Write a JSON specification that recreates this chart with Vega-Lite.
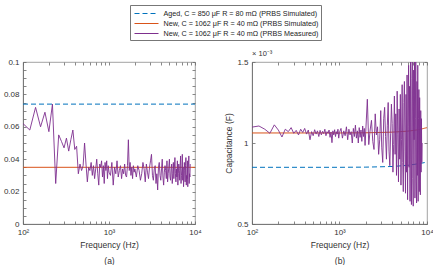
{
  "$schema": "https://vega.github.io/schema/vega-lite/v6.json",
  "padding": {"left": 3, "top": 4, "right": 2, "bottom": 0},
  "datasets": {
    "meas": [
      {"f":100,"esr":0.062,"cap":0.001098},{"f":120,"esr":0.058,"cap":0.001105},{"f":140,"esr":0.072,"cap":0.001085},{"f":160,"esr":0.060,"cap":0.001060},{"f":180,"esr":0.069,"cap":0.001112},{"f":200,"esr":0.057,"cap":0.001080},{"f":220,"esr":0.074,"cap":0.001037},{"f":240,"esr":0.025,"cap":0.001085},{"f":260,"esr":0.055,"cap":0.001070},{"f":280,"esr":0.051,"cap":0.001095},{"f":300,"esr":0.047,"cap":0.001060},{"f":320,"esr":0.053,"cap":0.001078},{"f":340,"esr":0.045,"cap":0.001050},{"f":360,"esr":0.052,"cap":0.001085},{"f":380,"esr":0.058,"cap":0.001065},{"f":400,"esr":0.046,"cap":0.001090},{"f":420,"esr":0.048,"cap":0.001055},
      {"f":440,"esr":0.031,"cap":0.001080},{"f":460,"esr":0.037,"cap":0.001020},{"f":480,"esr":0.033,"cap":0.001070},{"f":500,"esr":0.036,"cap":0.001045},{"f":520,"esr":0.050,"cap":0.001082},{"f":540,"esr":0.037,"cap":0.001055},{"f":560,"esr":0.026,"cap":0.001075},{"f":580,"esr":0.035,"cap":0.001040},{"f":600,"esr":0.033,"cap":0.001078},{"f":620,"esr":0.038,"cap":0.001050},{"f":640,"esr":0.030,"cap":0.001072},{"f":660,"esr":0.036,"cap":0.001058},{"f":680,"esr":0.028,"cap":0.001085},{"f":700,"esr":0.034,"cap":0.001045},{"f":720,"esr":0.040,"cap":0.001070},{"f":740,"esr":0.031,"cap":0.001060},{"f":760,"esr":0.024,"cap":0.001080},{"f":780,"esr":0.037,"cap":0.001035},{"f":800,"esr":0.035,"cap":0.001068},{"f":820,"esr":0.039,"cap":0.001002},{"f":840,"esr":0.029,"cap":0.001075},{"f":860,"esr":0.036,"cap":0.001050},{"f":880,"esr":0.025,"cap":0.001082},{"f":900,"esr":0.038,"cap":0.001040},{"f":920,"esr":0.033,"cap":0.001070},{"f":940,"esr":0.039,"cap":0.001055},{"f":960,"esr":0.028,"cap":0.001085},{"f":980,"esr":0.036,"cap":0.001030},{"f":1000,"esr":0.032,"cap":0.001065},
      {"f":1040,"esr":0.030,"cap":0.001090},{"f":1080,"esr":0.038,"cap":0.001030},{"f":1120,"esr":0.024,"cap":0.001075},{"f":1160,"esr":0.035,"cap":0.001045},{"f":1200,"esr":0.031,"cap":0.001100},{"f":1240,"esr":0.039,"cap":0.001020},{"f":1280,"esr":0.029,"cap":0.001085},{"f":1320,"esr":0.033,"cap":0.001050},{"f":1360,"esr":0.036,"cap":0.001070},{"f":1400,"esr":0.028,"cap":0.001000},{"f":1440,"esr":0.034,"cap":0.001090},{"f":1480,"esr":0.031,"cap":0.001040},{"f":1520,"esr":0.037,"cap":0.001110},{"f":1560,"esr":0.030,"cap":0.001030},{"f":1600,"esr":0.029,"cap":0.001075},{"f":1640,"esr":0.036,"cap":0.001000},{"f":1680,"esr":0.052,"cap":0.001095},{"f":1720,"esr":0.033,"cap":0.001035},{"f":1760,"esr":0.038,"cap":0.001080},{"f":1800,"esr":0.030,"cap":0.001010},{"f":1840,"esr":0.035,"cap":0.001105},{"f":1880,"esr":0.028,"cap":0.001040},{"f":1920,"esr":0.036,"cap":0.001090},{"f":1960,"esr":0.032,"cap":0.000985},{"f":2000,"esr":0.034,"cap":0.001080},
      {"f":2080,"esr":0.029,"cap":0.001270},{"f":2160,"esr":0.036,"cap":0.000990},{"f":2240,"esr":0.033,"cap":0.001080},{"f":2320,"esr":0.027,"cap":0.001140},{"f":2400,"esr":0.031,"cap":0.001010},{"f":2480,"esr":0.038,"cap":0.000960},{"f":2560,"esr":0.034,"cap":0.001180},{"f":2640,"esr":0.026,"cap":0.001050},{"f":2720,"esr":0.037,"cap":0.001100},{"f":2800,"esr":0.032,"cap":0.000930},{"f":2880,"esr":0.028,"cap":0.001020},{"f":2960,"esr":0.035,"cap":0.001200},{"f":3040,"esr":0.039,"cap":0.000970},{"f":3120,"esr":0.043,"cap":0.000880},{"f":3200,"esr":0.030,"cap":0.001150},{"f":3280,"esr":0.027,"cap":0.001220},{"f":3360,"esr":0.034,"cap":0.001040},{"f":3440,"esr":0.036,"cap":0.000900},{"f":3520,"esr":0.025,"cap":0.001110},{"f":3600,"esr":0.031,"cap":0.001250},{"f":3680,"esr":0.021,"cap":0.000950},{"f":3760,"esr":0.035,"cap":0.000860},{"f":3840,"esr":0.038,"cap":0.001060},{"f":3920,"esr":0.030,"cap":0.001240},{"f":4000,"esr":0.027,"cap":0.001120},{"f":4080,"esr":0.034,"cap":0.000820},{"f":4160,"esr":0.040,"cap":0.000990},{"f":4240,"esr":0.029,"cap":0.001290},{"f":4320,"esr":0.024,"cap":0.000930},{"f":4400,"esr":0.032,"cap":0.001180},{"f":4480,"esr":0.036,"cap":0.000800},{"f":4560,"esr":0.033,"cap":0.001320},{"f":4640,"esr":0.028,"cap":0.001050},{"f":4720,"esr":0.039,"cap":0.000760},{"f":4800,"esr":0.026,"cap":0.001210},{"f":4880,"esr":0.031,"cap":0.000900},{"f":4960,"esr":0.035,"cap":0.001300},{"f":5040,"esr":0.040,"cap":0.000740},{"f":5120,"esr":0.029,"cap":0.001020},{"f":5200,"esr":0.027,"cap":0.001360},{"f":5280,"esr":0.034,"cap":0.000880},{"f":5360,"esr":0.037,"cap":0.000700},{"f":5440,"esr":0.025,"cap":0.001250},{"f":5520,"esr":0.031,"cap":0.001380},{"f":5600,"esr":0.038,"cap":0.000950},{"f":5680,"esr":0.028,"cap":0.000690},{"f":5760,"esr":0.035,"cap":0.001300},{"f":5840,"esr":0.041,"cap":0.000820},{"f":5920,"esr":0.031,"cap":0.001420},{"f":6000,"esr":0.026,"cap":0.000650},{"f":6080,"esr":0.034,"cap":0.001100},{"f":6160,"esr":0.029,"cap":0.001480},{"f":6240,"esr":0.039,"cap":0.000850},{"f":6320,"esr":0.024,"cap":0.001350},{"f":6400,"esr":0.031,"cap":0.000640},{"f":6480,"esr":0.037,"cap":0.001560},{"f":6560,"esr":0.033,"cap":0.000900},{"f":6640,"esr":0.027,"cap":0.000620},{"f":6720,"esr":0.036,"cap":0.001400},{"f":6800,"esr":0.042,"cap":0.001600},{"f":6880,"esr":0.025,"cap":0.000780},{"f":6960,"esr":0.030,"cap":0.000610},{"f":7040,"esr":0.034,"cap":0.001450},{"f":7120,"esr":0.043,"cap":0.001020},{"f":7200,"esr":0.027,"cap":0.001580},{"f":7280,"esr":0.035,"cap":0.000660},{"f":7360,"esr":0.023,"cap":0.001150},{"f":7440,"esr":0.029,"cap":0.001520},{"f":7520,"esr":0.038,"cap":0.000760},{"f":7600,"esr":0.033,"cap":0.000630},{"f":7680,"esr":0.026,"cap":0.001380},{"f":7760,"esr":0.036,"cap":0.000800},{"f":7840,"esr":0.041,"cap":0.001480},{"f":7920,"esr":0.024,"cap":0.000640},{"f":8000,"esr":0.030,"cap":0.001150},{"f":8080,"esr":0.028,"cap":0.001330},{"f":8160,"esr":0.039,"cap":0.000700},{"f":8240,"esr":0.023,"cap":0.001280},{"f":8320,"esr":0.034,"cap":0.000760},{"f":8400,"esr":0.037,"cap":0.000680},{"f":8480,"esr":0.042,"cap":0.001200},{"f":8560,"esr":0.025,"cap":0.000820},{"f":8640,"esr":0.031,"cap":0.001150},{"f":8720,"esr":0.029,"cap":0.000880},{"f":8800,"esr":0.037,"cap":0.001000}
    ],
    "esrSim": [
      {"f":100,"esr":0.074,"s":"Aged, C = 850 μF R = 80 mΩ (PRBS Simulated)"},
      {"f":10000,"esr":0.074,"s":"Aged, C = 850 μF R = 80 mΩ (PRBS Simulated)"},
      {"f":100,"esr":0.035,"s":"New, C = 1062 μF R = 40 mΩ (PRBS Simulated)"},
      {"f":10000,"esr":0.035,"s":"New, C = 1062 μF R = 40 mΩ (PRBS Simulated)"}
    ],
    "capSim": [
      {"f":100,"cap":0.000850,"s":"Aged, C = 850 μF R = 80 mΩ (PRBS Simulated)"},
      {"f":1000,"cap":0.000850,"s":"Aged, C = 850 μF R = 80 mΩ (PRBS Simulated)"},
      {"f":2000,"cap":0.000851,"s":"Aged, C = 850 μF R = 80 mΩ (PRBS Simulated)"},
      {"f":4000,"cap":0.000855,"s":"Aged, C = 850 μF R = 80 mΩ (PRBS Simulated)"},
      {"f":6000,"cap":0.000862,"s":"Aged, C = 850 μF R = 80 mΩ (PRBS Simulated)"},
      {"f":8000,"cap":0.000872,"s":"Aged, C = 850 μF R = 80 mΩ (PRBS Simulated)"},
      {"f":10000,"cap":0.000882,"s":"Aged, C = 850 μF R = 80 mΩ (PRBS Simulated)"},
      {"f":100,"cap":0.001062,"s":"New, C = 1062 μF R = 40 mΩ (PRBS Simulated)"},
      {"f":1000,"cap":0.001062,"s":"New, C = 1062 μF R = 40 mΩ (PRBS Simulated)"},
      {"f":2000,"cap":0.001063,"s":"New, C = 1062 μF R = 40 mΩ (PRBS Simulated)"},
      {"f":4000,"cap":0.001067,"s":"New, C = 1062 μF R = 40 mΩ (PRBS Simulated)"},
      {"f":6000,"cap":0.001073,"s":"New, C = 1062 μF R = 40 mΩ (PRBS Simulated)"},
      {"f":8000,"cap":0.001082,"s":"New, C = 1062 μF R = 40 mΩ (PRBS Simulated)"},
      {"f":10000,"cap":0.001095,"s":"New, C = 1062 μF R = 40 mΩ (PRBS Simulated)"}
    ]
  },
  "config": {
    "font": "Liberation Sans",
    "view": {"stroke": "#8a8a8a", "strokeWidth": 0.8},
    "axis": {
      "grid": false, "domainColor": "#6a6a6a", "domainWidth": 0.8, "tickColor": "#6a6a6a", "tickWidth": 0.8,
      "tickSize": -3, "labelPadding": 7, "labelColor": "#333333", "labelFontSize": 8,
      "titleColor": "#333333", "titleFontSize": 8.5, "titleFontWeight": "normal", "labelFlush": false, "labelOverlap": false
    },
    "title": {"fontWeight": "normal", "color": "#333333"}
  },
  "hconcat": [
    {
      "width": 172, "height": 162,
      "layer": [
        {
          "data": {"name": "esrSim"},
          "mark": {"type": "line", "strokeWidth": 1, "clip": true},
          "encoding": {
            "x": {"field": "f", "type": "quantitative", "scale": {"type": "log", "domain": [100, 10000], "nice": false},
              "axis": {"orient": "bottom", "values": [100,200,300,400,500,600,700,800,900,1000,2000,3000,4000,5000,6000,7000,8000,9000,10000],
                "labelExpr": "datum.value==100?'10²':datum.value==1000?'10³':datum.value==10000?'10⁴':''",
                "title": ["Frequency (Hz)", "(a)"], "titleLineHeight": 16, "titlePadding": 4}},
            "y": {"field": "esr", "type": "quantitative", "scale": {"domain": [0, 0.1], "nice": false},
              "axis": {"orient": "left", "values": [0,0.005,0.01,0.015,0.02,0.025,0.03,0.035,0.04,0.045,0.05,0.055,0.06,0.065,0.07,0.075,0.08,0.085,0.09,0.095,0.1],
                "labelExpr": "abs(round(datum.value*50)-datum.value*50)<0.001 ? format(datum.value,'~g') : ''", "title": null}},
            "color": {"field": "s", "type": "nominal",
              "scale": {"domain": ["Aged, C = 850 μF R = 80 mΩ (PRBS Simulated)", "New, C = 1062 μF R = 40 mΩ (PRBS Simulated)", "New, C = 1062 μF R = 40 mΩ (PRBS Measured)"],
                "range": ["#0072BD", "#D95319", "#7E2F8E"]},
              "legend": {"orient": "none", "legendX": 107, "legendY": -57, "direction": "vertical", "title": null,
                "labelFontSize": 7.2, "labelColor": "#222222", "labelLimit": 0, "symbolType": "M-2.4,0H2.4", "symbolSize": 100,
                "symbolStrokeWidth": 1.2, "strokeColor": "#777777", "fillColor": "white", "padding": 2.5, "rowPadding": 0,
                "symbolOffset": 8, "labelOffset": 11,
                "encode": {"symbols": {"update": {"strokeDash": {"signal": "indexof(datum.value,'Aged')==0 ? [5,3] : [1,0]"}}}}}},
            "strokeDash": {"field": "s", "type": "nominal",
              "scale": {"domain": ["Aged, C = 850 μF R = 80 mΩ (PRBS Simulated)", "New, C = 1062 μF R = 40 mΩ (PRBS Simulated)"], "range": [[5,3],[1,0]]},
              "legend": null}
          }
        },
        {
          "data": {"name": "meas"},
          "mark": {"type": "line", "strokeWidth": 0.9, "clip": true},
          "encoding": {
            "x": {"field": "f", "type": "quantitative",
              "axis": {"orient": "top", "values": [100,200,300,400,500,600,700,800,900,1000,2000,3000,4000,5000,6000,7000,8000,9000,10000], "labels": false, "domain": false, "title": null}},
            "y": {"field": "esr", "type": "quantitative",
              "axis": {"orient": "right", "values": [0,0.005,0.01,0.015,0.02,0.025,0.03,0.035,0.04,0.045,0.05,0.055,0.06,0.065,0.07,0.075,0.08,0.085,0.09,0.095,0.1], "labels": false, "domain": false, "title": null}},
            "color": {"datum": "New, C = 1062 μF R = 40 mΩ (PRBS Measured)"}
          }
        }
      ]
    },
    {
      "width": 175, "height": 162,
      "title": {"text": "× 10⁻³", "anchor": "start", "frame": "group", "fontSize": 7.5, "offset": 1, "color": "#333333"},
      "layer": [
        {
          "data": {"name": "capSim"},
          "mark": {"type": "line", "strokeWidth": 1, "clip": true},
          "encoding": {
            "x": {"field": "f", "type": "quantitative", "scale": {"type": "log", "domain": [100, 10000], "nice": false},
              "axis": {"orient": "bottom", "values": [100,200,300,400,500,600,700,800,900,1000,2000,3000,4000,5000,6000,7000,8000,9000,10000],
                "labelExpr": "datum.value==100?'10²':datum.value==1000?'10³':datum.value==10000?'10⁴':''",
                "title": ["Frequency (Hz)", "(b)"], "titleLineHeight": 16, "titlePadding": 4}},
            "y": {"field": "cap", "type": "quantitative", "scale": {"domain": [0.0005, 0.0015], "nice": false},
              "axis": {"orient": "left", "values": [0.0005, 0.001, 0.0015], "labelExpr": "format(datum.value*1000,'~g')", "title": "Capacitance (F)", "titlePadding": 3}},
            "color": {"field": "s", "type": "nominal"},
            "strokeDash": {"field": "s", "type": "nominal", "legend": null}
          }
        },
        {
          "data": {"name": "meas"},
          "mark": {"type": "line", "strokeWidth": 0.9, "clip": true},
          "encoding": {
            "x": {"field": "f", "type": "quantitative",
              "axis": {"orient": "top", "values": [100,200,300,400,500,600,700,800,900,1000,2000,3000,4000,5000,6000,7000,8000,9000,10000], "labels": false, "domain": false, "title": null}},
            "y": {"field": "cap", "type": "quantitative",
              "axis": {"orient": "right", "values": [0.0005, 0.001, 0.0015], "labels": false, "domain": false, "title": null}},
            "color": {"datum": "New, C = 1062 μF R = 40 mΩ (PRBS Measured)"}
          }
        }
      ]
    }
  ],
  "spacing": 57,
  "bounds": "flush"
}
